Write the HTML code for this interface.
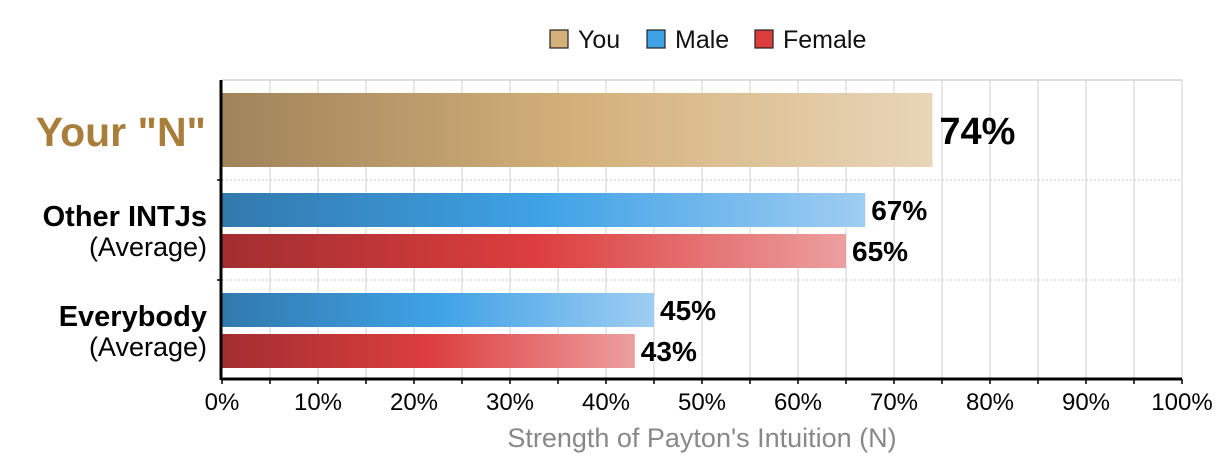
<!DOCTYPE html>
<html><head><meta charset="utf-8"><style>
html,body{margin:0;padding:0;background:#fff;}
svg{display:block;font-family:"Liberation Sans",sans-serif;}
</style></head><body>
<svg id="chart" width="1230" height="470" viewBox="0 0 1230 470">
<defs>
<linearGradient id="gYou" x1="0" x2="1" y1="0" y2="0"><stop offset="0" stop-color="#a0835a"/><stop offset="0.5" stop-color="#d4b07a"/><stop offset="1" stop-color="#e8d6b8"/></linearGradient>
<linearGradient id="gMale" x1="0" x2="1" y1="0" y2="0"><stop offset="0" stop-color="#3179ad"/><stop offset="0.5" stop-color="#3fa2e6"/><stop offset="1" stop-color="#9fcdf2"/></linearGradient>
<linearGradient id="gFemale" x1="0" x2="1" y1="0" y2="0"><stop offset="0" stop-color="#a22e30"/><stop offset="0.5" stop-color="#dc3e3e"/><stop offset="1" stop-color="#ec9f9f"/></linearGradient>
</defs>
<g id="grid"></g>
<g id="bars"></g>
<g id="axes"></g>
<g font-size="25" fill="#111">
<rect x="550" y="30" width="18" height="18" fill="#d4b07a" stroke="#222" stroke-width="1.2"/>
<text x="578" y="48">You</text>
<rect x="647" y="30" width="18" height="18" fill="#3fa2e6" stroke="#222" stroke-width="1.2"/>
<text x="675" y="48">Male</text>
<rect x="755" y="30" width="18" height="18" fill="#dc3e3e" stroke="#222" stroke-width="1.2"/>
<text x="783" y="48">Female</text>
</g>
<g text-anchor="end">
<text x="206" y="146" font-size="41" font-weight="bold" fill="#a87e3a">Your "N"</text>
<text x="207" y="226" font-size="29" font-weight="bold" fill="#000">Other INTJs</text>
<text x="207" y="256" font-size="27" fill="#000">(Average)</text>
<text x="207" y="326" font-size="29" font-weight="bold" fill="#000">Everybody</text>
<text x="207" y="356" font-size="27" fill="#000">(Average)</text>
</g>
<text x="702" y="447" text-anchor="middle" font-size="27" fill="#888">Strength of Payton's Intuition (N)</text>
</svg>
<script>
const categories = ["You", "Other INTJs Male", "Other INTJs Female", "Everybody Male", "Everybody Female"];
const values = [74, 67, 65, 45, 43];
const series = ["You", "Male", "Female", "Male", "Female"];
const tickValues = [0,10,20,30,40,50,60,70,80,90,100];

const NS = "http://www.w3.org/2000/svg";
const x0 = 222, x1 = 1182, yTop = 80, yBot = 379;
const xs = v => x0 + (x1 - x0) * v / 100;
const barGeom = [[93,74],[193,34],[234,34],[293,34],[334,34]];
function mk(tag, attrs, parent){const e=document.createElementNS(NS,tag);for(const k in attrs)e.setAttribute(k,attrs[k]);parent.appendChild(e);return e;}
const grid=document.getElementById('grid'), bars=document.getElementById('bars'), axes=document.getElementById('axes');
for(let v=5; v<=100; v+=5){
  const l=mk('line',{x1:xs(v),x2:xs(v),y1:yTop,y2:yBot,stroke:'#d0d0d0','stroke-width':1},grid);
  
  
}
const tb=mk('line',{x1:x0,x2:x1,y1:yTop,y2:yTop,stroke:'#d0d0d0','stroke-width':1.5},grid);


[180,280].forEach(y=>{
  const d=mk('line',{x1:x0,x2:x1,y1:y,y2:y,stroke:'#c8c8c8','stroke-width':1,'stroke-dasharray':'2,2'},grid);
  
  
  const t=mk('line',{x1:217,x2:222,y1:y,y2:y,stroke:'#000','stroke-width':1.5},axes);
  
  
});
values.forEach((v,i)=>{
  const [y,h]=barGeom[i];
  const r=mk('rect',{x:x0,y:y,width:xs(v)-x0,height:h,fill:'url(#g'+series[i]+')'},bars);
  
  
  const big=i===0;
  const t=mk('text',{x:xs(v)+(big?7:6),y:y+h/2+(big?14:10),'font-size':big?38:28,'font-weight':'bold',fill:'#000'},bars);
  t.textContent=v+'%';
  
  
});
const ax=mk('line',{x1:x0-1,x2:x1,y1:yBot,y2:yBot,stroke:'#000','stroke-width':3},axes);


const ay=mk('line',{x1:x0-1,x2:x0-1,y1:yTop,y2:yBot+1,stroke:'#000','stroke-width':3},axes);


for(let v=0; v<=100; v+=5){
  const t=mk('line',{x1:xs(v),x2:xs(v),y1:yBot,y2:yBot+5,stroke:'#000','stroke-width':1.5},axes);
  
  
}
tickValues.forEach(v=>{
  const t=mk('text',{x:xs(v),y:410,'text-anchor':'middle','font-size':24,fill:'#000'},axes);
  t.textContent=v+'%';
  
  
});
</script>
</body></html>
